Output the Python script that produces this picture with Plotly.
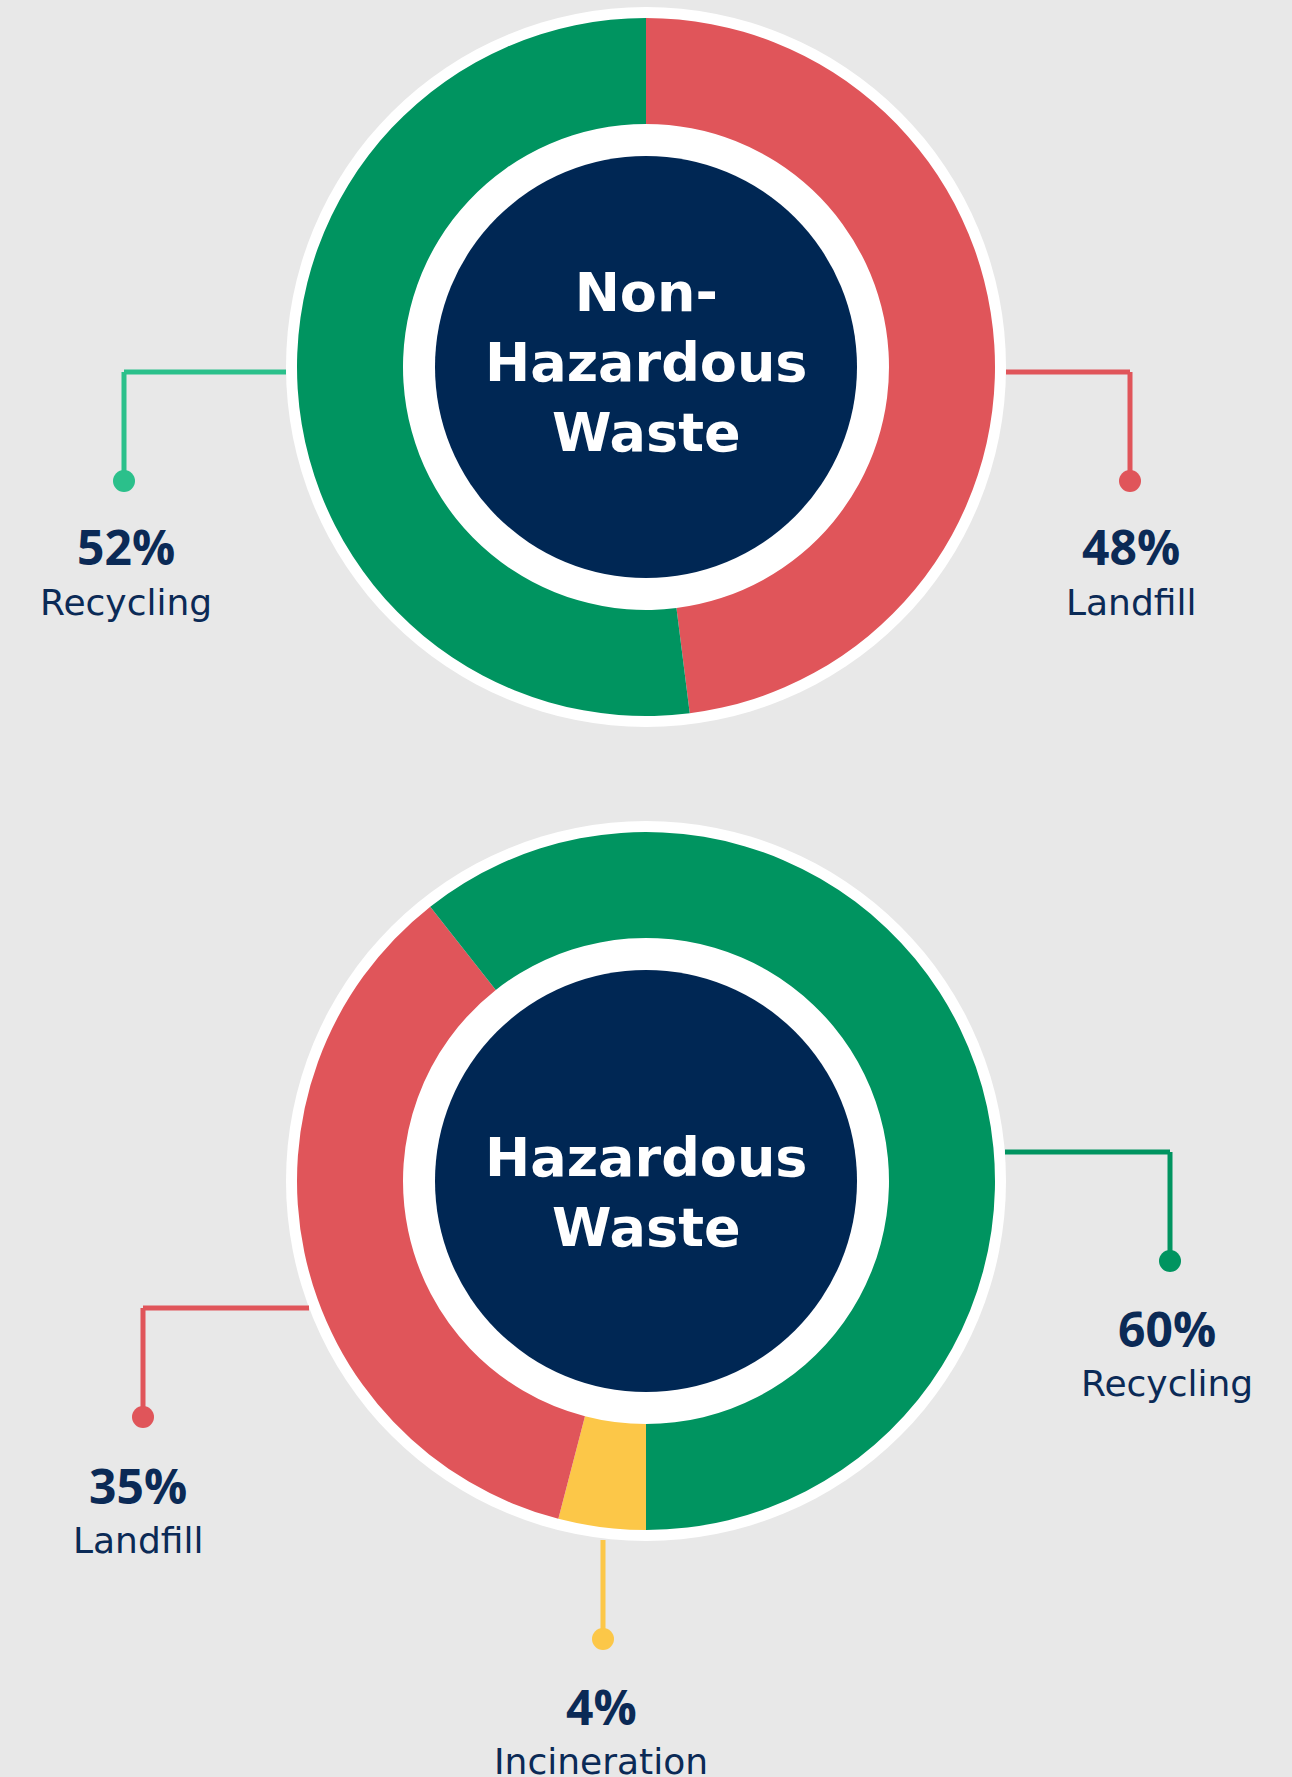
import plotly.graph_objects as go

# ---------------- data ----------------
nonhaz_title = ["Non-", "Hazardous", "Waste"]
nonhaz_labels = ["Landfill", "Recycling"]
nonhaz_values = [48, 52]

haz_title = ["Hazardous", "Waste"]
haz_labels = ["Incineration", "Landfill", "Recycling"]
haz_values = [4, 35, 60]

# ---------------- style ----------------
W, H = 1292, 1777
BG = "#e8e8e8"
NAVY = "#002754"
TEXT = "#0b2a56"
GREEN = "#009460"
LIGHT_GREEN = "#2bc08b"
RED = "#e0555a"
YELLOW = "#fcc748"
slice_colors = {"Landfill": RED, "Recycling": GREEN, "Incineration": YELLOW}
TITLE_FONT = "DejaVu Sans"
PCT_FONT = "Open Sans"
CAT_FONT = "DejaVu Sans"

R_COLOR = 349      # outer radius of coloured ring (px)
R_WHITE = 360      # outer white ring
R_HOLE = 243       # inner radius of coloured ring
R_NAVY = 211       # navy disc
LW = 5
DOT_R = 11


def px(x):
    return x / W


def py(y):
    return 1 - y / H


fig = go.Figure()
shapes = []
annotations = []


def add_donut(cx, cy, labels, values, rotation, title_lines, title_y, leaders):
    # white ring + navy disc behind
    shapes.append(dict(type="circle", xref="paper", yref="paper", layer="below",
                       x0=px(cx - R_WHITE), x1=px(cx + R_WHITE),
                       y0=py(cy + R_WHITE), y1=py(cy - R_WHITE),
                       fillcolor="white", line=dict(width=0)))
    shapes.append(dict(type="circle", xref="paper", yref="paper", layer="below",
                       x0=px(cx - R_NAVY), x1=px(cx + R_NAVY),
                       y0=py(cy + R_NAVY), y1=py(cy - R_NAVY),
                       fillcolor=NAVY, line=dict(width=0)))
    fig.add_trace(go.Pie(
        labels=labels, values=values, sort=False, direction="clockwise",
        rotation=rotation, hole=R_HOLE / R_COLOR, textinfo="none",
        hoverinfo="label+percent", showlegend=False,
        marker=dict(colors=[slice_colors[l] for l in labels], line=dict(width=0)),
        domain=dict(x=[px(cx - R_COLOR), px(cx + R_COLOR)],
                    y=[py(cy + R_COLOR), py(cy - R_COLOR)]),
    ))
    annotations.append(dict(text="<b>" + "<br>".join(title_lines) + "</b>",
                            x=px(cx), y=py(title_y),
                            xref="paper", yref="paper", showarrow=False,
                            xanchor="center", yanchor="middle", align="center",
                            font=dict(family=TITLE_FONT, size=54, color="white")))
    for ld in leaders:
        lab = ld["label"]
        val = values[labels.index(lab)]
        pts = ld["path"]
        for (x0, y0), (x1, y1) in zip(pts[:-1], pts[1:]):
            shapes.append(dict(type="line", xref="paper", yref="paper",
                               x0=px(x0), y0=py(y0), x1=px(x1), y1=py(y1),
                               line=dict(color=ld["color"], width=LW)))
        dx, dy = pts[-1]
        shapes.append(dict(type="circle", xref="paper", yref="paper",
                           x0=px(dx - DOT_R), x1=px(dx + DOT_R),
                           y0=py(dy + DOT_R), y1=py(dy - DOT_R),
                           fillcolor=ld["color"], line=dict(width=0)))
        tx, ty = ld["text"]
        annotations.append(dict(text=f"<b>{val}%</b>", x=px(tx), y=py(ty),
                                xref="paper", yref="paper", showarrow=False,
                                xanchor="center", yanchor="middle",
                                font=dict(family=PCT_FONT, size=48, color=TEXT)))
        annotations.append(dict(text=lab, x=px(tx), y=py(ty + 55),
                                xref="paper", yref="paper", showarrow=False,
                                xanchor="center", yanchor="middle",
                                font=dict(family=CAT_FONT, size=36, color=TEXT)))


add_donut(646, 367, nonhaz_labels, nonhaz_values, 0, nonhaz_title, 362,
          [dict(label="Recycling", color=LIGHT_GREEN,
                path=[(286, 372), (124, 372), (124, 481)], text=(126, 547)),
           dict(label="Landfill", color=RED,
                path=[(1006, 372), (1130, 372), (1130, 481)], text=(1131, 547))])

add_donut(646, 1181, haz_labels, haz_values, 180, haz_title, 1192,
          [dict(label="Recycling", color=GREEN,
                path=[(1005, 1152), (1170, 1152), (1170, 1261)], text=(1167, 1328)),
           dict(label="Landfill", color=RED,
                path=[(309, 1308), (143, 1308), (143, 1417)], text=(138, 1485)),
           dict(label="Incineration", color=YELLOW,
                path=[(603, 1540), (603, 1639)], text=(601, 1706))])

fig.update_layout(
    width=W, height=H, margin=dict(l=0, r=0, t=0, b=0),
    paper_bgcolor=BG, plot_bgcolor=BG,
    shapes=shapes, annotations=annotations,
    font=dict(family=CAT_FONT),
)

fig.write_html("out.html", config={"displayModeBar": False},
               post_script="document.body.style.margin='0';document.body.style.background='#e8e8e8';")
